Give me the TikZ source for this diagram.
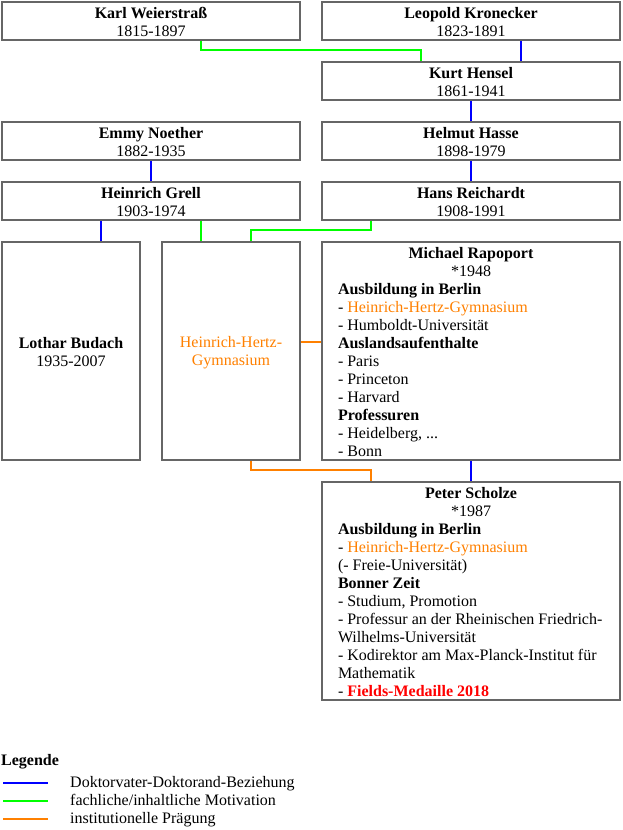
\documentclass[tikz,border=0pt]{standalone}
\usepackage{fontspec}
\setmainfont{Liberation Serif}
\usetikzlibrary{backgrounds}
\definecolor{bordergray}{HTML}{666666}
\definecolor{relblue}{HTML}{0000FF}
\definecolor{relgreen}{HTML}{00FF00}
\definecolor{relorange}{HTML}{FF8000}
\definecolor{relred}{HTML}{FF0000}
\newcommand\mystrut{\rule[-2pt]{0pt}{16pt}}
\newcommand\persontext[3]{\parbox{#1}{\centering\mystrut\textbf{#2}\\\mystrut #3}}
\begin{document}
\begin{tikzpicture}[x=1pt,y=-1pt,
  every node/.style={font=\fontsize{16pt}{18pt}\selectfont},
  box/.style={draw=bordergray, line width=2pt, rectangle, inner sep=0pt, outer sep=0pt,
              minimum width=298pt, minimum height=38pt},
  tallbox/.style={box, minimum height=218pt},
  narrowbox/.style={tallbox, minimum width=138pt},
  conn/.style={line width=2pt},
  doc/.style={conn, draw=relblue},
  mot/.style={conn, draw=relgreen},
  inst/.style={conn, draw=relorange},
  legtext/.style={anchor=base west, inner sep=0pt},
]
\useasboundingbox (0,0) rectangle (622,830);

% top boxes
\node[box] (weier) at (151,21) {\persontext{266pt}{Karl Weierstraß}{1815-1897}};
\node[box] (kron)  at (471,21) {\persontext{266pt}{Leopold Kronecker}{1823-1891}};
\node[box] (hensel) at (471,81) {\persontext{266pt}{Kurt Hensel}{1861-1941}};
\node[box] (noether) at (151,141) {\persontext{266pt}{Emmy Noether}{1882-1935}};
\node[box] (hasse) at (471,141) {\persontext{266pt}{Helmut Hasse}{1898-1979}};
\node[box] (grell) at (151,201) {\persontext{266pt}{Heinrich Grell}{1903-1974}};
\node[box] (reich) at (471,201) {\persontext{266pt}{Hans Reichardt}{1908-1991}};

% middle row
\node[narrowbox] (budach) at (71,351) {\persontext{120pt}{Lothar Budach}{1935-2007}};
\node[narrowbox] (hhg) at (231,351) {\parbox{120pt}{\centering\color{relorange}\mystrut Heinrich-Hertz-\\\mystrut Gymnasium}};
\node[tallbox] (rap) at (471,351) {\parbox{266pt}{\centering
  \mystrut\textbf{Michael Rapoport}\\
  \mystrut *1948\par\raggedright
  \mystrut\textbf{Ausbildung in Berlin}\\
  \mystrut - {\color{relorange}Heinrich-Hertz-Gymnasium}\\
  \mystrut - Humboldt-Universität\\
  \mystrut\textbf{Auslandsaufenthalte}\\
  \mystrut - Paris\\
  \mystrut - Princeton\\
  \mystrut - Harvard\\
  \mystrut\textbf{Professuren}\\
  \mystrut - Heidelberg, ...\\
  \mystrut - Bonn}};

\node[tallbox] (scholze) at (471,591) {\parbox{266pt}{\centering
  \mystrut\textbf{Peter Scholze}\\
  \mystrut *1987\par\raggedright
  \mystrut\textbf{Ausbildung in Berlin}\\
  \mystrut - {\color{relorange}Heinrich-Hertz-Gymnasium}\\
  \mystrut (- Freie-Universität)\\
  \mystrut\textbf{Bonner Zeit}\\
  \mystrut - Studium, Promotion\\
  \mystrut - Professur an der Rheinischen Friedrich-\\
  \mystrut Wilhelms-Universität\\
  \mystrut - Kodirektor am Max-Planck-Institut für\\
  \mystrut Mathematik\\
  \mystrut - {\color{relred}\textbf{Fields-Medaille 2018}}}};

% connectors
\begin{pgfonlayer}{background}
\draw[mot] ([xshift=50pt]weier.south) -- ++(0pt,-10pt) -| ([xshift=-50pt]hensel.north);
\draw[doc] ([xshift=50pt]kron.south) -- ([xshift=50pt]kron.south |- hensel.north);
\draw[doc] (hensel) -- (hasse);
\draw[doc] (hasse) -- (reich);
\draw[doc] (noether) -- (grell);
\draw[doc] ([xshift=-50pt]grell.south) -- ([xshift=-50pt]grell.south |- budach.north);
\draw[mot] ([xshift=50pt]grell.south) -- ([xshift=50pt]grell.south |- hhg.north);
\draw[mot] ([xshift=-100pt]reich.south) -- ++(0pt,-10pt) -| ([xshift=20pt]hhg.north);
\draw[inst] ([yshift=9pt]hhg.east) -- ([yshift=9pt]hhg.east -| rap.west);
\draw[inst] ([xshift=20pt]hhg.south) -- ++(0pt,-10pt) -| ([xshift=-100pt]scholze.north);
\draw[doc] (rap) -- (scholze);
\end{pgfonlayer}

% legend
\node[legtext] (legtitle) at (1,765) {\textbf{Legende}};
\coordinate (la1) at (3,782.5);  \coordinate (lb1) at (48,782.5);
\coordinate (la2) at (3,800.5);  \coordinate (lb2) at (48,800.5);
\coordinate (la3) at (3,818.5);  \coordinate (lb3) at (48,818.5);
\draw[doc] (la1) -- (lb1);
\draw[mot] (la2) -- (lb2);
\draw[inst] (la3) -- (lb3);
\node[legtext] (leg1) at (70,787.5) {Doktorvater-Doktorand-Beziehung};
\node[legtext] (leg2) at (70,805.5) {fachliche/inhaltliche Motivation};
\node[legtext] (leg3) at (70,823.5) {institutionelle Prägung};
\end{tikzpicture}
\end{document}
